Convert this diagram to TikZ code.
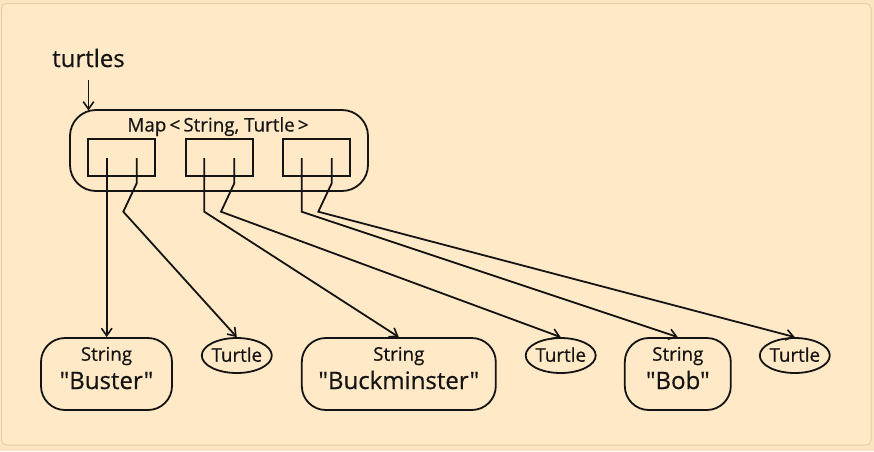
\documentclass[tikz,border=0pt]{standalone}
\usepackage{fontspec}
\setmainfont[BoldFont={Open Sans},BoldFeatures={FakeBold=0.5},Ligatures=TeXOff]{Open Sans}
\usetikzlibrary{arrows.meta,shapes.geometric}
\definecolor{outerbg}{HTML}{FBE4BF}
\definecolor{panelbg}{HTML}{FFE9C6}
\definecolor{panelbd}{HTML}{E3CFA9}
\definecolor{ink}{HTML}{141414}
\tikzset{
  ln/.style={draw=ink, line width=1.8pt},
  arr/.style={ln, -{Straight Barb[length=7.5pt,width=10.5pt,line width=1.6pt]}},
  strbox/.style={ln, rounded corners=24pt, inner sep=0pt},
  turtlebox/.style={ln, ellipse, inner sep=0pt, minimum width=70pt, minimum height=35pt},
  slot/.style={ln, rectangle, inner sep=0pt, minimum width=67pt, minimum height=37pt},
  smalltxt/.style={font=\fontsize{18.8}{20}\selectfont\bfseries, text=ink, inner sep=0pt, anchor=base},
  bigtxt/.style={font=\fontsize{24}{26}\selectfont\bfseries, text=ink, inner sep=0pt, anchor=base},
}
\begin{document}
\begin{tikzpicture}[x=1pt,y=-1pt]
\useasboundingbox (0,0) rectangle (874,451);
\fill[outerbg] (0,0) rectangle (874,451);
\draw[panelbd, fill=panelbg, line width=1pt, rounded corners=5pt] (1.5,3.5) rectangle (871,445);

% variable name
\node[font=\fontsize{24}{26}\selectfont\bfseries, text=ink, inner sep=0pt, anchor=base] (turtles) at (88.5,67) {turtles};
\coordinate (ta) at (88.5,80);

% map
\node[strbox, rounded corners=26pt, minimum width=298pt, minimum height=81pt] (map) at (219,150.5) {};
\node[smalltxt] (maplbl) at (218,131.5) {Map\,<\,String, Turtle\,>};
\node[slot] (s1) at (121.4,157.5) {};
\node[slot] (s2) at (219.2,157.5) {};
\node[slot] (s3) at (316.7,157.5) {};
\coordinate (mtop) at (88.5,110.5);
\draw[arr] (ta) -- (mtop);

% bottom objects
\node[strbox, minimum width=131pt, minimum height=72pt] (buster) at (106.5,374) {};
\node[smalltxt] at (106.5,360.7) {String};
\node[bigtxt] at (106.5,389) {"Buster"};

\node[turtlebox] (t1) at (236.8,355.5) {};
\node[smalltxt] at (236.8,361.7) {Turtle};

\node[strbox, minimum width=194pt, minimum height=72pt] (buck) at (398.8,374) {};
\node[smalltxt] at (398.8,360.7) {String};
\node[bigtxt] at (398.8,389) {"Buckminster"};

\node[turtlebox] (t2) at (560.7,355.5) {};
\node[smalltxt] at (560.7,361.7) {Turtle};

\node[strbox, minimum width=106pt, minimum height=72pt] (bob) at (677.8,374) {};
\node[smalltxt] at (677.8,360.7) {String};
\node[bigtxt] at (677.8,389) {"Bob"};

\node[turtlebox] (t3) at (794.8,355.5) {};
\node[smalltxt] at (794.8,361.7) {Turtle};

% key/value pointers
\coordinate (k1) at (106.7,158);
\coordinate (v1) at (136.7,158);
\coordinate (k2) at (204.3,158);
\coordinate (v2) at (234.3,158);
\coordinate (k3) at (301.7,158);
\coordinate (v3) at (331.7,158);

\draw[arr] (k1) -- (k1 |- buster.north);
\draw[arr] (v1) -- (136.7,183.3) -- (123.3,211.7) -- (t1.north);
\draw[arr] (k2) -- (204.3,211.7) -- (buck.north);
\draw[arr] (v2) -- (234.3,183.3) -- (221,211.7) -- (t2.north);
\draw[arr] (k3) -- (301.7,211.7) -- (bob.north);
\draw[arr] (v3) -- (331.7,183.3) -- (318.3,211.7) -- (t3.north);
\end{tikzpicture}
\end{document}
